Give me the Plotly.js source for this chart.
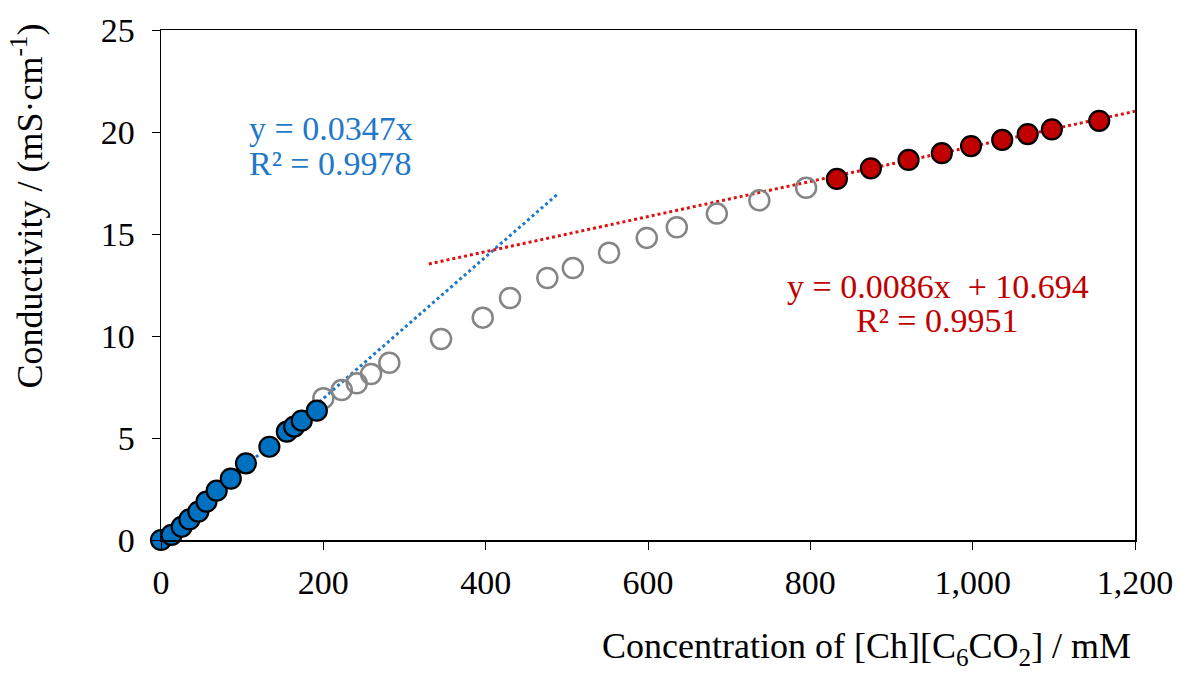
<!DOCTYPE html>
<html>
<head>
<meta charset="utf-8">
<script src="https://cdn.plot.ly/plotly-3.0.1.min.js"></script>
<style>html,body{margin:0;padding:0;background:#fff;}#chart{width:1179px;height:673px;}</style>
</head>
<body>
<div id="chart"></div>
<script>
// Blue (low concentration, linear region)
const blueX = [0, 13, 25.5, 35, 46, 56, 68.6, 86, 104.7, 133.5, 155, 164, 173.4, 192];
const blueY = [0, 0.25, 0.65, 1.01, 1.39, 1.88, 2.42, 3.01, 3.76, 4.57, 5.31, 5.56, 5.85, 6.34];
// Grey open circles (transition region)
const greyX = [200, 222.7, 241.2, 258.8, 281.3, 345, 396.4, 430, 476, 507.4, 552, 598.5, 635.5, 684.8, 737.2, 794.8];
const greyY = [6.95, 7.35, 7.68, 8.14, 8.69, 9.85, 10.9, 11.86, 12.84, 13.33, 14.08, 14.81, 15.33, 16.0, 16.65, 17.27];
// Red (high concentration, linear region)
const redX = [832.7, 874.6, 921, 962, 998, 1036.4, 1067.8, 1097.6, 1155.9];
const redY = [17.70, 18.22, 18.63, 18.96, 19.31, 19.61, 19.90, 20.13, 20.55];
// Trend lines (from the printed equations)
const blueSlope = 0.0347, blueIntercept = 0, blueFitRange = [0, 490];
const redSlope = 0.0086, redIntercept = 10.694, redFitRange = [330, 1200];
// Tick labels
const xTicks = [0, 200, 400, 600, 800, 1000, 1200];
const yTicks = [0, 5, 10, 15, 20, 25];

const FONT = "Liberation Serif, Times New Roman, serif";
const FS = 34;
const BLUE = "#0070C0", BLUE_TXT = "#1F78C8", RED = "#C00000", RED_LINE = "#E01010";

const traces = [
  {x: blueFitRange, y: blueFitRange.map(v => blueSlope * v + blueIntercept), mode: "lines",
   line: {color: BLUE_TXT, width: 3, dash: "dot"}, hoverinfo: "skip"},
  {x: redFitRange, y: redFitRange.map(v => redSlope * v + redIntercept), mode: "lines",
   line: {color: RED_LINE, width: 3, dash: "dot"}, hoverinfo: "skip"},
  {x: greyX, y: greyY, mode: "markers", cliponaxis: false,
   marker: {size: 20, color: "rgba(0,0,0,0)", line: {color: "#858585", width: 2.5}}},
  {x: blueX, y: blueY, mode: "markers", cliponaxis: false,
   marker: {size: 20, color: BLUE, line: {color: "#000", width: 2.2}}},
  {x: redX, y: redY, mode: "markers", cliponaxis: false,
   marker: {size: 20, color: RED, line: {color: "#000", width: 2.2}}}
];

const tf = {family: FONT, size: FS, color: "#000"};
const titleFont = {family: FONT, size: 36, color: "#000"};
const layout = {
  width: 1179, height: 673,
  margin: {l: 161, r: 44, t: 30, b: 133},
  paper_bgcolor: "#fff", plot_bgcolor: "#fff",
  showlegend: false,
  font: tf,
  xaxis: {range: [0, 1200], tickvals: xTicks, tickformat: ",d",
    showgrid: false, zeroline: false, showline: true, linecolor: "#000", linewidth: 1.5, mirror: true,
    ticks: "outside", ticklen: 8, tickcolor: "#000", tickwidth: 1,
    ticklabelstandoff: 4, tickfont: tf},
  yaxis: {range: [0, 25], tickvals: yTicks,
    showgrid: false, zeroline: false, showline: true, linecolor: "#000", linewidth: 1.5, mirror: true,
    ticks: "outside", ticklen: 8, tickcolor: "#000", tickwidth: 1,
    ticklabelstandoff: 10, tickfont: tf},
  annotations: [
    {xref: "paper", yref: "paper", x: 0.998, y: -0.212, xanchor: "right", yanchor: "middle", showarrow: false,
     text: "Concentration of [Ch][C<sub>6</sub>CO<sub>2</sub>] / mM", font: titleFont},
    {xref: "paper", yref: "paper", x: -0.137, y: 0.655, xanchor: "center", yanchor: "middle", showarrow: false,
     textangle: -90, text: "Conductivity / (mS·cm<sup>-1</sup>)", font: titleFont},
    {xref: "x", yref: "y", x: 106, y: 20.15, xanchor: "left", yanchor: "middle", showarrow: false,
     text: "y = 0.0347x", font: {family: FONT, size: FS, color: BLUE_TXT}},
    {xref: "x", yref: "y", x: 106, y: 18.45, xanchor: "left", yanchor: "middle", showarrow: false,
     text: "R² = 0.9978", font: {family: FONT, size: FS, color: BLUE_TXT}},
    {xref: "x", yref: "y", x: 957, y: 12.45, xanchor: "center", yanchor: "middle", showarrow: false,
     text: "y = 0.0086x  + 10.694", font: {family: FONT, size: FS, color: RED}},
    {xref: "x", yref: "y", x: 957, y: 10.74, xanchor: "center", yanchor: "middle", showarrow: false,
     text: "R² = 0.9951", font: {family: FONT, size: FS, color: RED}}
  ]
};

Plotly.newPlot("chart", traces, layout, {staticPlot: true, displayModeBar: false});
</script>
</body>
</html>
